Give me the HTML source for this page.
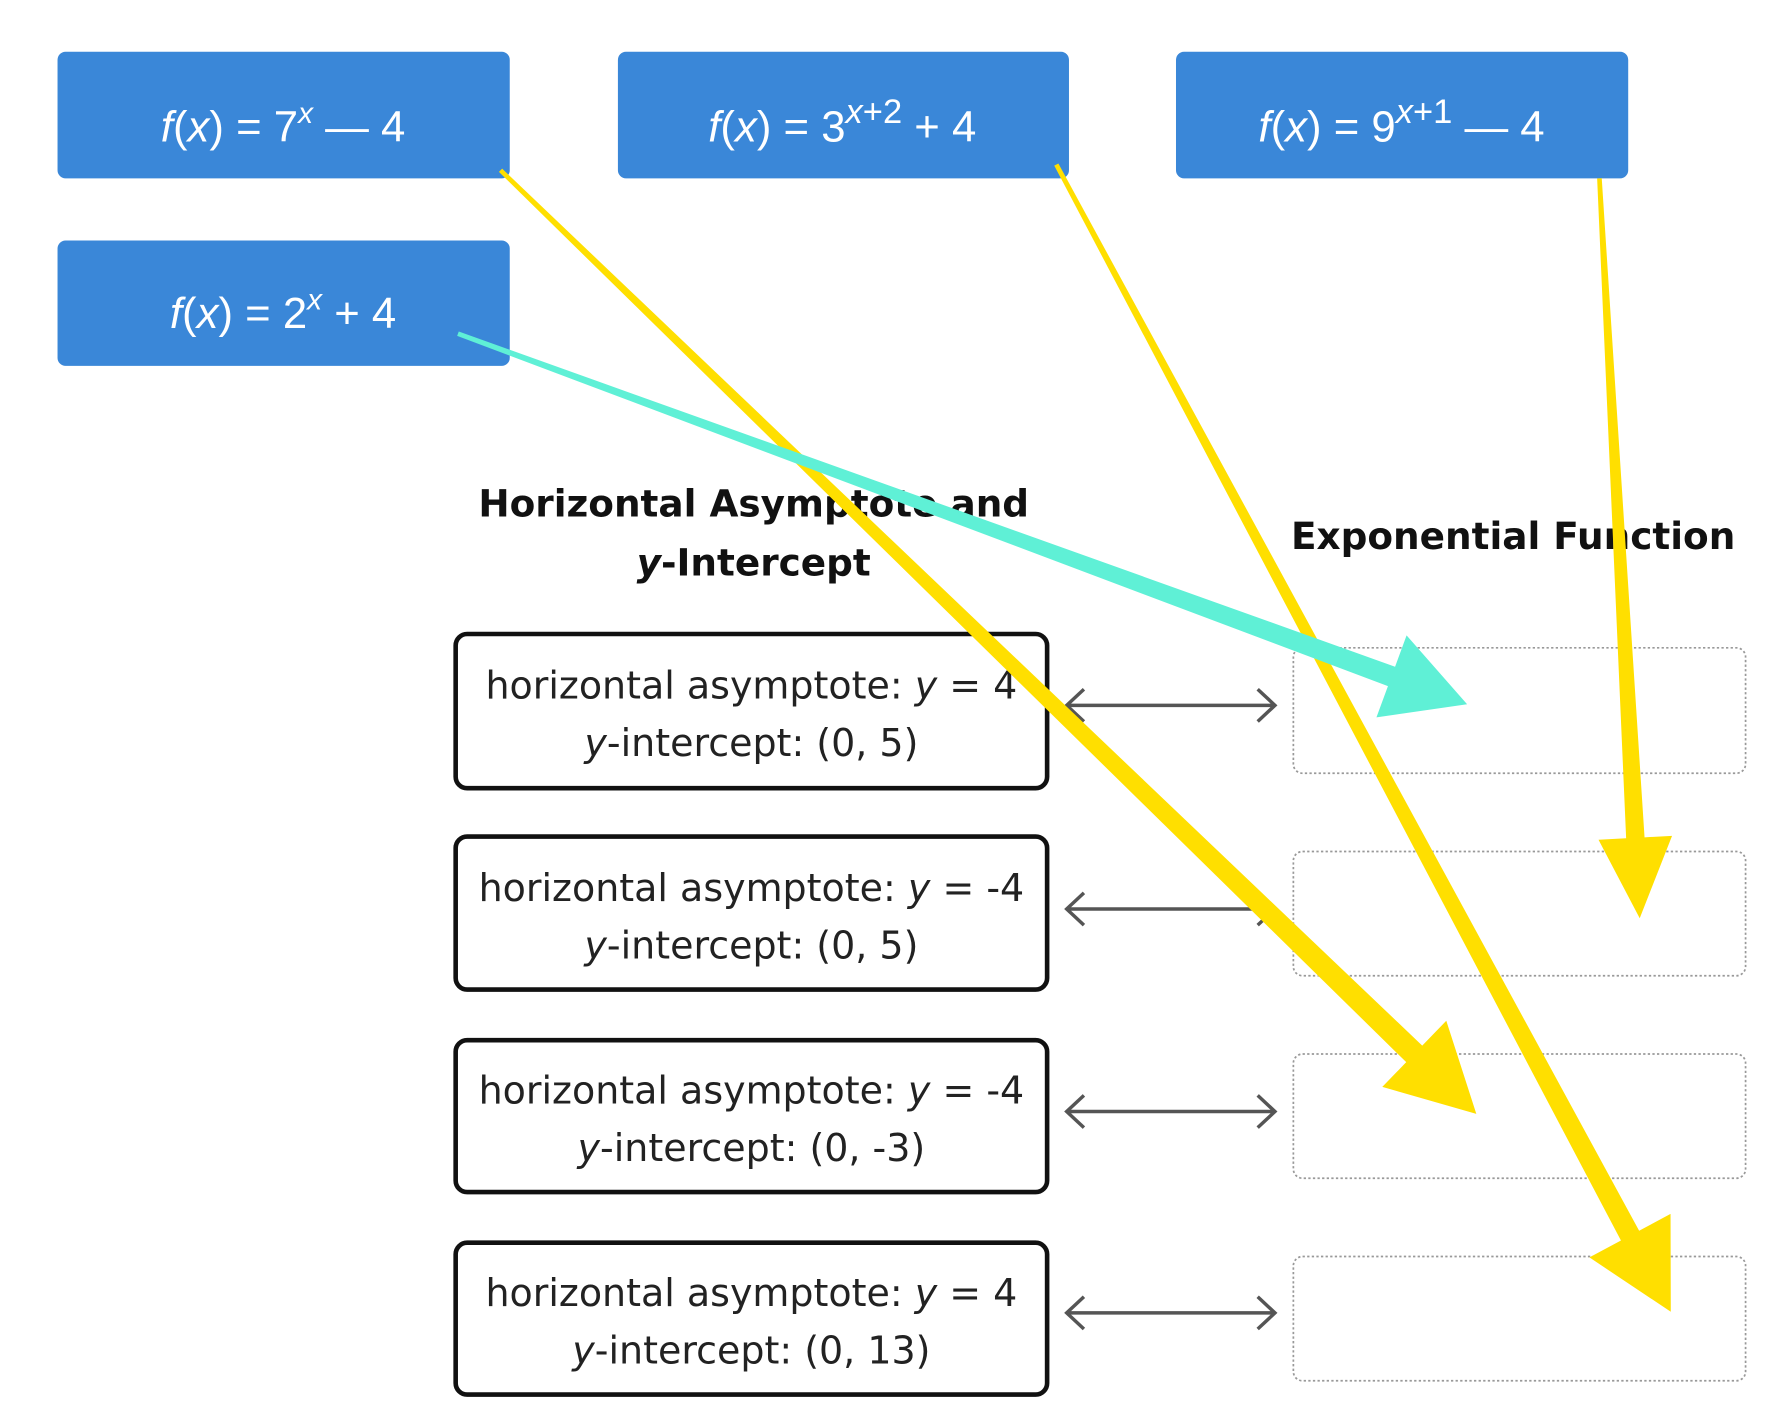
<!DOCTYPE html>
<html><head><meta charset="utf-8"><style>
html,body{margin:0;padding:0;background:#fff;}
svg{display:block;}
</style></head><body>
<svg id="s" width="1787" height="1413" viewBox="0 0 1553 1228" preserveAspectRatio="none" xmlns="http://www.w3.org/2000/svg">
<g fill="#3a87d8">
<rect x="50" y="45" width="393" height="110" rx="7"/>
<rect x="537" y="45" width="392" height="110" rx="7"/>
<rect x="1022" y="45" width="393" height="110" rx="7"/>
<rect x="50" y="209" width="393" height="109" rx="7"/>
</g>
<g fill="#fff" font-family="Liberation Sans, sans-serif" font-size="38" text-anchor="middle">
<text x="246" y="123"><tspan font-style="italic">f</tspan>(<tspan font-style="italic">x</tspan>) = 7<tspan font-style="italic" font-size="26" dy="-16">x</tspan><tspan dy="16"> — 4</tspan></text>
<text x="732" y="123"><tspan font-style="italic">f</tspan>(<tspan font-style="italic">x</tspan>) = 3<tspan font-size="30" dy="-16"><tspan font-style="italic">x</tspan>+2</tspan><tspan dy="16"> + 4</tspan></text>
<text x="1218" y="123"><tspan font-style="italic">f</tspan>(<tspan font-style="italic">x</tspan>) = 9<tspan font-size="30" dy="-16"><tspan font-style="italic">x</tspan>+1</tspan><tspan dy="16"> — 4</tspan></text>
<text x="246" y="285"><tspan font-style="italic">f</tspan>(<tspan font-style="italic">x</tspan>) = 2<tspan font-style="italic" font-size="26" dy="-16">x</tspan><tspan dy="16"> + 4</tspan></text>
</g>
<g font-family="DejaVu Sans, sans-serif" font-weight="bold" font-size="32.5" fill="#111" text-anchor="middle">
<text x="655" y="449">Horizontal Asymptote and</text>
<text x="655" y="500"><tspan font-style="italic">y</tspan>-Intercept</text>
<text x="1315" y="477">Exponential Function</text>
</g>
<g fill="none" stroke="#111" stroke-width="4">
<rect x="396" y="551" width="514" height="134" rx="10"/>
<rect x="396" y="727" width="514" height="133" rx="10"/>
<rect x="396" y="904" width="514" height="132" rx="10"/>
<rect x="396" y="1080" width="514" height="132" rx="10"/>
</g>
<g font-family="DejaVu Sans, sans-serif" font-size="33" fill="#222" text-anchor="middle">
<text x="653" y="607">horizontal asymptote: <tspan font-style="italic">y</tspan> = 4</text>
<text x="653" y="657"><tspan font-style="italic">y</tspan>-intercept: (0, 5)</text>
<text x="653" y="783">horizontal asymptote: <tspan font-style="italic">y</tspan> = -4</text>
<text x="653" y="833"><tspan font-style="italic">y</tspan>-intercept: (0, 5)</text>
<text x="653" y="959">horizontal asymptote: <tspan font-style="italic">y</tspan> = -4</text>
<text x="653" y="1009"><tspan font-style="italic">y</tspan>-intercept: (0, -3)</text>
<text x="653" y="1135">horizontal asymptote: <tspan font-style="italic">y</tspan> = 4</text>
<text x="653" y="1185"><tspan font-style="italic">y</tspan>-intercept: (0, 13)</text>
</g>
<g fill="none" stroke="#555" stroke-width="3">
<path d="M927 613H1108M942 599L927 613L942 627M1093 599L1108 613L1093 627"/>
<path d="M927 790H1108M942 776L927 790L942 804M1093 776L1108 790L1093 804"/>
<path d="M927 966H1108M942 952L927 966L942 980M1093 952L1108 966L1093 980"/>
<path d="M927 1141H1108M942 1127L927 1141L942 1155M1093 1127L1108 1141L1093 1155"/>
</g>
<g fill="none" stroke="#999" stroke-width="1.5" stroke-dasharray="2,2">
<rect x="1124" y="563" width="393" height="109" rx="8"/>
<rect x="1124" y="740" width="393" height="108" rx="8"/>
<rect x="1124" y="916" width="393" height="108" rx="8"/>
<rect x="1124" y="1092" width="393" height="108" rx="8"/>
</g>
<g id="arrows"></g>
</svg>
<script>
function arrow(x1,y1,x2,y2,w1,w2,hw,hl,col){
 var dx=x2-x1,dy=y2-y1,L=Math.hypot(dx,dy),ux=dx/L,uy=dy/L,nx=-uy,ny=ux;
 var bx=x2-ux*hl,by=y2-uy*hl;
 var p=[[x1+nx*w1/2,y1+ny*w1/2],[bx+nx*w2/2,by+ny*w2/2],[bx+nx*hw/2,by+ny*hw/2],[x2,y2],[bx-nx*hw/2,by-ny*hw/2],[bx-nx*w2/2,by-ny*w2/2],[x1-nx*w1/2,y1-ny*w1/2]];
 var e=document.createElementNS("http://www.w3.org/2000/svg","polygon");
 e.setAttribute("points",p.map(function(q){return q[0].toFixed(1)+","+q[1].toFixed(1)}).join(" "));
 e.setAttribute("fill",col);
 document.getElementById("arrows").appendChild(e);
}
arrow(435,148,1283,968,4,20,80,75,"#ffdf00");
arrow(918,143,1452,1140,4,18,80,75,"#ffdf00");
arrow(1390,155,1425,798,4,16,64,70,"#ffdf00");
arrow(398,290,1275,612,4,18,76,70,"#5ff0d6");
</script>
</body></html>
